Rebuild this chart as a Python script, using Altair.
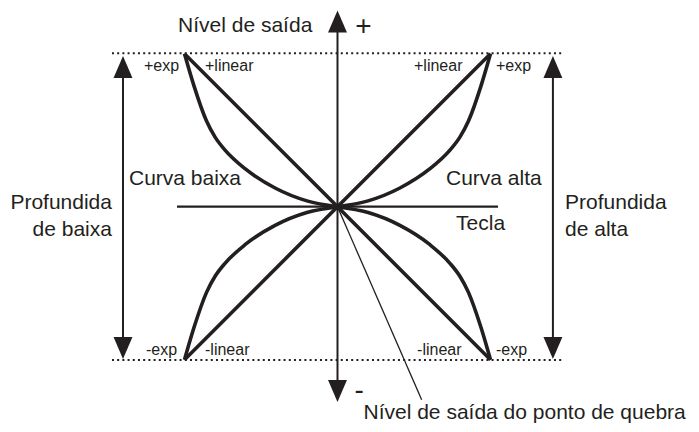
import altair as alt
import pandas as pd

INK = "#231f20"
FONT = "Liberation Sans"

# ---- diagram values (key position on x, output level on y; both -1..1) ----
# "Curva alta" exponential curve in the upper-right quadrant
exp_key = [0.0, 0.2, 0.408, 0.6, 0.735, 0.8, 0.856, 0.938, 1.0]
exp_lvl = [0.0, 0.038, 0.122, 0.245, 0.37, 0.455, 0.56, 0.79, 1.0]
# the four quadrants: (key sign, level sign)
quad_names = ["alta +", "baixa +", "baixa -", "alta -"]
quad_sx = [1, -1, -1, 1]
quad_sy = [1, 1, -1, -1]

# linear curves
lin_names = ["linear sobe", "linear desce"]
lin_x1 = [-1, -1]
lin_y1 = [-1, 1]
lin_x2 = [1, 1]
lin_y2 = [1, -1]

# depth limits (dotted lines at +/- full level)
limit_lvl = [1.003, -1.002]
limit_from = [-1.474, -1.474]
limit_to = [1.48, 1.48]

# depth arrows (Profundida de baixa / de alta)
depth_x = [-1.402, 1.408]
depth_top = [0.913, 0.913]
depth_bot = [-0.923, -0.923]

# output-level axis and key axis
axis_top = [1.21]
axis_bot = [-1.205]
key_from = [-1.049]
key_to = [1.049]

# break-point pointer
ptr_x = [0.0, 0.55]
ptr_y = [0.0, -1.262]

# labels
big_left_txt = ["Nível de saída", "Curva baixa", "Curva alta", "Tecla",
                "Profundida", "de alta", "Nível de saída do ponto de quebra"]
big_left_x = [-1.042, -1.363, 0.709, 0.775, 1.487, 1.487, 0.17]
big_left_y = [1.142, 0.142, 0.142, -0.152, -0.015, -0.192, -1.386]

big_right_txt = ["Profundida", "de baixa"]
big_right_x = [-1.474, -1.474]
big_right_y = [-0.015, -0.192]

small_txt = ["+exp", "+linear", "+linear", "+exp", "-exp", "-linear", "-linear", "-exp"]
small_x = [-1.265, -0.866, 0.5, 1.036, -1.252, -0.866, 0.52, 1.036]
small_y = [0.887, 0.887, 0.887, 0.887, -0.969, -0.969, -0.969, -0.969]

sign_txt = ["+", "-"]
sign_x = [0.17, 0.141]
sign_y = [1.122, -1.257]

# ---- tables ----
rows = []
for n, sx, sy in zip(quad_names, quad_sx, quad_sy):
    for k, v in zip(exp_key, exp_lvl):
        rows.append({"curve": n, "x": sx * k, "y": sy * v})
exp_df = pd.DataFrame(rows)
lin_df = pd.DataFrame({"curve": lin_names, "x": lin_x1, "y": lin_y1, "x2": lin_x2, "y2": lin_y2})
lim_df = pd.DataFrame({"y": limit_lvl, "x": limit_from, "x2": limit_to})
depth_df = pd.DataFrame({"x": depth_x, "y": depth_top, "y2": depth_bot})
axis_df = pd.DataFrame({"x": [0.0], "y": axis_top, "y2": axis_bot})
key_df = pd.DataFrame({"y": [0.0], "x": key_from, "x2": key_to})
ptr_df = pd.DataFrame({"x": [ptr_x[0]], "y": [ptr_y[0]], "x2": [ptr_x[1]], "y2": [ptr_y[1]]})
up_df = pd.DataFrame({"x": depth_x + [0.0], "y": depth_top + axis_top})
down_df = pd.DataFrame({"x": depth_x + [0.0], "y": depth_bot + axis_bot})
bl_df = pd.DataFrame({"t": big_left_txt, "x": big_left_x, "y": big_left_y})
br_df = pd.DataFrame({"t": big_right_txt, "x": big_right_x, "y": big_right_y})
sm_df = pd.DataFrame({"t": small_txt, "x": small_x, "y": small_y})
sg_df = pd.DataFrame({"t": sign_txt, "x": sign_x, "y": sign_y})

# ---- scales: one unit = 153 px in both directions ----
XS = alt.Scale(domain=[-2.1536, 2.3105], nice=False, zero=False)
YS = alt.Scale(domain=[-1.4203, 1.2987], nice=False, zero=False)
X = lambda f="x": alt.X(f, type="quantitative", scale=XS, axis=None)
Y = lambda f="y": alt.Y(f, type="quantitative", scale=YS, axis=None)

dotted = alt.Chart(lim_df).mark_rule(color=INK, strokeWidth=2, strokeDash=[2, 3.2]).encode(
    x=X(), x2="x2", y=Y())
depth = alt.Chart(depth_df).mark_rule(color=INK, strokeWidth=2).encode(x=X(), y=Y(), y2="y2")
axis_v = alt.Chart(axis_df).mark_rule(color=INK, strokeWidth=2).encode(x=X(), y=Y(), y2="y2")
key_h = alt.Chart(key_df).mark_rule(color=INK, strokeWidth=2.2).encode(x=X(), x2="x2", y=Y())
ptr = alt.Chart(ptr_df).mark_rule(color=INK, strokeWidth=1.3).encode(x=X(), y=Y(), x2="x2", y2="y2")
lin = alt.Chart(lin_df).mark_rule(color=INK, strokeWidth=3.6).encode(x=X(), y=Y(), x2="x2", y2="y2")
expc = alt.Chart(exp_df).mark_line(color=INK, strokeWidth=3.6, interpolate="monotone").encode(
    x=X(), y=Y(), detail="curve:N")

UP = "M0,-1L0.86,1L-0.86,1Z"
DOWN = "M0,1L0.86,-1L-0.86,-1Z"
up = alt.Chart(up_df).mark_point(shape=UP, size=484, filled=True, color=INK, opacity=1,
                                 strokeWidth=0).encode(x=X(), y=Y())
down = alt.Chart(down_df).mark_point(shape=DOWN, size=484, filled=True, color=INK, opacity=1,
                                     strokeWidth=0).encode(x=X(), y=Y())

bl = alt.Chart(bl_df).mark_text(font=FONT, fontSize=21, align="left", baseline="alphabetic",
                                color=INK).encode(x=X(), y=Y(), text="t:N")
br = alt.Chart(br_df).mark_text(font=FONT, fontSize=21, align="right", baseline="alphabetic",
                                color=INK).encode(x=X(), y=Y(), text="t:N")
sm = alt.Chart(sm_df).mark_text(font=FONT, fontSize=16, align="left", baseline="alphabetic",
                                color=INK).encode(x=X(), y=Y(), text="t:N")
sg = alt.Chart(sg_df).mark_text(font=FONT, fontSize=28, align="center", baseline="alphabetic",
                                color=INK).encode(x=X(), y=Y(), text="t:N")

chart = alt.layer(dotted, depth, axis_v, key_h, ptr, lin, expc, up, down, bl, br, sm, sg).properties(
    width=683, height=416, autosize=alt.AutoSizeParams(type="none"), padding=0
).configure(background="white").configure_view(stroke=None)

chart.save("out.html", embed_options={"renderer": "svg", "actions": False})
